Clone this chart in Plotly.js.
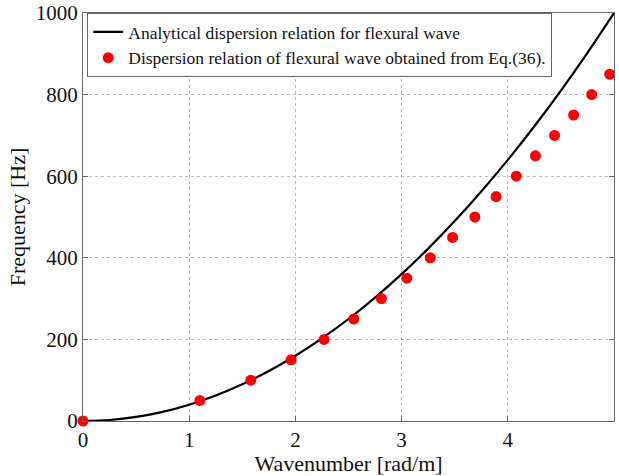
<!DOCTYPE html>
<html><head><meta charset="utf-8">
<script src="https://cdn.plot.ly/plotly-3.0.1.min.js"></script>
<style>html,body{margin:0;padding:0;background:#fff}#chart{width:619px;height:476px}</style>
</head><body><div id="chart"></div>
<script>
const analyticK = [0,0.25,0.5,0.75,1,1.25,1.5,1.75,2,2.25,2.5,2.75,3,3.25,3.5,3.75,4,4.25,4.5,4.75,5];
const analyticF = [0,2.5,10,22.5,40,62.5,90,122.5,160,202.5,250,302.5,360,422.5,490,562.5,640,722.5,810,902.5,1000];
const eqK = [0,1.10,1.58,1.96,2.27,2.55,2.81,3.05,3.27,3.48,3.69,3.89,4.08,4.26,4.44,4.62,4.79,4.96];
const eqF = [0,50,100,150,200,250,300,350,400,450,500,550,600,650,700,750,800,850];
const xTicks = [0,1,2,3,4,5];
const yTicks = [0,200,400,600,800,1000];

const serif = "Liberation Serif";
const traces = [
  {x: analyticK, y: analyticF, type: 'scatter', mode: 'lines',
   line: {color: '#000', width: 2.2, shape: 'spline'},
   name: 'Analytical dispersion relation for flexural wave'},
  {x: eqK, y: eqF, type: 'scatter', mode: 'markers', cliponaxis: false,
   marker: {color: '#ff0000', size: 11},
   name: 'Dispersion relation of flexural wave obtained from Eq.(36).'}
];
const axisCommon = {
  showline: true, mirror: 'ticks', linecolor: '#666', linewidth: 1,
  ticks: 'inside', ticklen: 5, tickcolor: '#666',
  showgrid: true, gridcolor: '#bbb', griddash: 'dot', gridwidth: 1,
  zeroline: false, tickfont: {family: serif, size: 21, color: '#111'}
};
const layout = {
  width: 619, height: 476,
  margin: {l: 83, r: 5, t: 13, b: 55},
  paper_bgcolor: '#fff', plot_bgcolor: '#fff',
  font: {family: serif, color: '#111'},
  xaxis: Object.assign({}, axisCommon, {range: [0,5], tickvals: xTicks,
    title: {text: 'Wavenumber [rad/m]', font: {family: serif, size: 22}, standoff: 0}}),
  yaxis: Object.assign({}, axisCommon, {range: [0,1000], tickvals: yTicks,
    title: {text: 'Frequency [Hz]', font: {family: serif, size: 22}, standoff: 4}}),
  legend: {x: 0.008, y: 1, xanchor: 'left', yanchor: 'top',
    bgcolor: '#fff', bordercolor: '#666', borderwidth: 1,
    font: {family: serif, size: 17.5}, tracegroupgap: 0, itemwidth: 30},
  showlegend: true
};
Plotly.newPlot('chart', traces, layout, {displayModeBar: false, staticPlot: true});
</script></body></html>
